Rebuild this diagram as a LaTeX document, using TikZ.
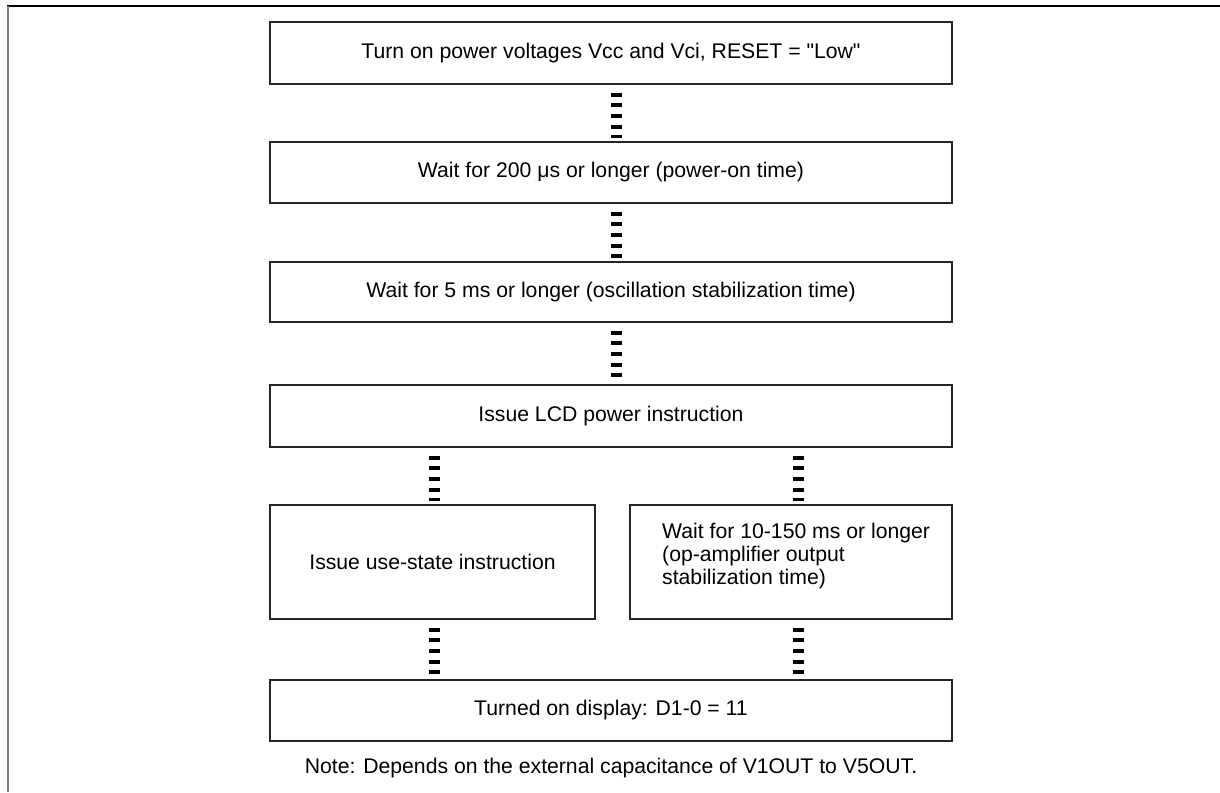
\documentclass[tikz,border=0pt]{standalone}
\usepackage{fontspec}
\newfontfamily\lsans{Liberation Sans}
\begin{document}
\begin{tikzpicture}[x=1pt,y=-1pt,
  box/.style={draw=black!85, line width=1.3pt, fill=white, inner sep=0pt, font=\lsans\fontsize{21.2}{23}\selectfont},
  dots/.style={line width=11pt, dash pattern=on 4pt off 6.7pt, shorten <=8pt, shorten >=3pt},
  txt/.style={inner sep=0pt, font=\lsans\fontsize{21.2}{23}\selectfont}]
\useasboundingbox (0,0) rectangle (1220,792);
\fill[white] (0,0) rectangle (1220,792);
\draw[black, line width=1.2pt] (7,6) -- (1220,6);
\draw[black!50, line width=2pt] (8,6) -- (8,792);

\node[box, minimum width=682pt, minimum height=62pt] (b1) at (611,53) {Turn on power voltages Vcc and Vci, RESET = "Low"};
\node[box, minimum width=682pt, minimum height=61pt] (b2) at (611,172.5) {Wait for 200 μs or longer (power-on time)};
\node[box, minimum width=682pt, minimum height=60pt] (b3) at (611,292) {Wait for 5 ms or longer (oscillation stabilization time)};
\node[box, minimum width=682pt, minimum height=62pt] (b4) at (611,416) {Issue LCD power instruction};
\node[box, minimum width=325pt, minimum height=114pt] (b5l) at (432.5,562) {Issue use-state instruction};
\node[box, minimum width=322pt, minimum height=114pt] (b5r) at (791,562) {};
\node[txt, anchor=north west, align=left] (t5r) at (662,523) {Wait for 10-150 ms or longer\\(op-amplifier output\\stabilization time)};
\node[box, minimum width=682pt, minimum height=61pt] (b6) at (611,710.5) {Turned on display: D1-0 = 11};
\node[txt] (note) at (611,768) {Note: Depends on the external capacitance of V1OUT to V5OUT.};

\coordinate (cm) at (616,0);
\coordinate (cl) at (434,0);
\coordinate (cr) at (798,0);
\draw[dots] (b1.south -| cm) -- (b2.north -| cm);
\draw[dots] (b2.south -| cm) -- (b3.north -| cm);
\draw[dots] (b3.south -| cm) -- (b4.north -| cm);
\draw[dots] (b4.south -| cl) -- (b5l.north -| cl);
\draw[dots] (b4.south -| cr) -- (b5r.north -| cr);
\draw[dots] (b5l.south -| cl) -- (b6.north -| cl);
\draw[dots] (b5r.south -| cr) -- (b6.north -| cr);
\end{tikzpicture}
\end{document}
